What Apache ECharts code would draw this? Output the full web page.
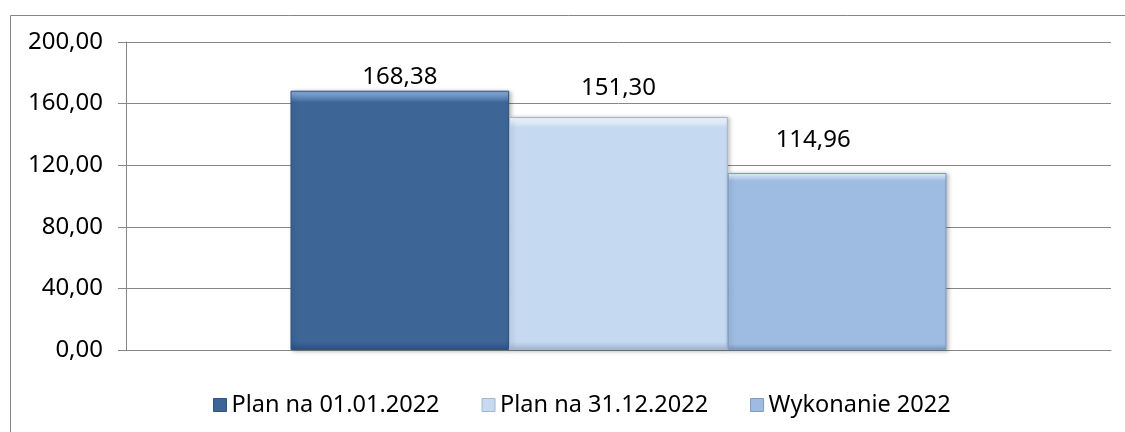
<!DOCTYPE html>
<html>
<head>
<meta charset="utf-8">
<script src="https://cdn.jsdelivr.net/npm/echarts@6/dist/echarts.min.js"></script>
<style>
html,body{margin:0;padding:0;background:#fff;}
#chart{width:1125px;height:432px;}
</style>
</head>
<body>
<div id="chart"></div>
<script>
const categories = [''];
const seriesNames = ['Plan na 01.01.2022', 'Plan na 31.12.2022', 'Wykonanie 2022'];
const seriesValues = [[168.38], [151.30], [114.96]];
const yTicks = { min: 0, max: 200, interval: 40 };

const baseColors = ['#3D6697', '#C5D9F1', '#9EBBE1'];
const topColors = ['#7EA3D2', '#EEF6FE', '#D8EAFB'];
const edgeColors = ['#2E5282', '#A3B7CE', '#7E9AC0'];
const labelOffsets = [[0, 0], [0, -15], [-24, -19]];

function fmt(v) { return v.toFixed(2).replace('.', ','); }

function fill(i) {
  return new echarts.graphic.LinearGradient(0, 0, 0, 1, [
    { offset: 0, color: topColors[i] },
    { offset: 0.012, color: topColors[i] },
    { offset: 0.045, color: baseColors[i] },
    { offset: 0.965, color: baseColors[i] },
    { offset: 1, color: edgeColors[i] }
  ]);
}

const chart = echarts.init(document.getElementById('chart'), null, { renderer: 'canvas' });
chart.setOption({
  animation: false,
  backgroundColor: '#fff',
  textStyle: { fontFamily: 'Noto Sans' },
  graphic: [{
    type: 'rect', left: 8, top: 13, silent: true,
    shape: { width: 1125, height: 440 },
    style: { fill: 'none', stroke: '#868686', lineWidth: 1 }
  }],
  grid: { left: 126, right: 14, top: 42, bottom: 82, containLabel: false },
  legend: {
    left: 208, top: 388,
    itemWidth: 13, itemHeight: 13, itemGap: 42,
    icon: 'rect',
    textStyle: { fontFamily: 'Noto Sans', fontSize: 23.5, color: '#000' },
    data: seriesNames.map((n, i) => ({ name: n, itemStyle: { color: fill(i), borderColor: edgeColors[i], borderWidth: 1 } }))
  },
  xAxis: {
    type: 'category', data: categories,
    axisLine: { show: true, lineStyle: { color: '#868686', width: 1 } },
    axisTick: { show: false },
    axisLabel: { show: false }
  },
  yAxis: {
    type: 'value', min: yTicks.min, max: yTicks.max, interval: yTicks.interval,
    axisLine: { show: true, lineStyle: { color: '#868686', width: 1 } },
    axisTick: { show: true, length: 8, lineStyle: { color: '#868686' } },
    axisLabel: { margin: 23, fontFamily: 'Noto Sans', fontSize: 24, color: '#000', formatter: v => fmt(v) },
    splitLine: { show: true, lineStyle: { color: '#868686', width: 1 } }
  },
  series: seriesNames.map((name, i) => ({
    name, type: 'bar',
    data: seriesValues[i],
    barGap: '0%', barCategoryGap: '33.4%',
    itemStyle: {
      color: fill(i), borderColor: edgeColors[i], borderWidth: 1,
      shadowColor: 'rgba(0,0,0,0.25)', shadowBlur: 4, shadowOffsetX: 2, shadowOffsetY: 1
    },
    label: {
      show: true, position: 'top', distance: 2, offset: labelOffsets[i],
      fontFamily: 'Noto Sans', fontSize: 24, color: '#000',
      formatter: p => fmt(p.value)
    }
  }))
});
</script>
</body>
</html>
